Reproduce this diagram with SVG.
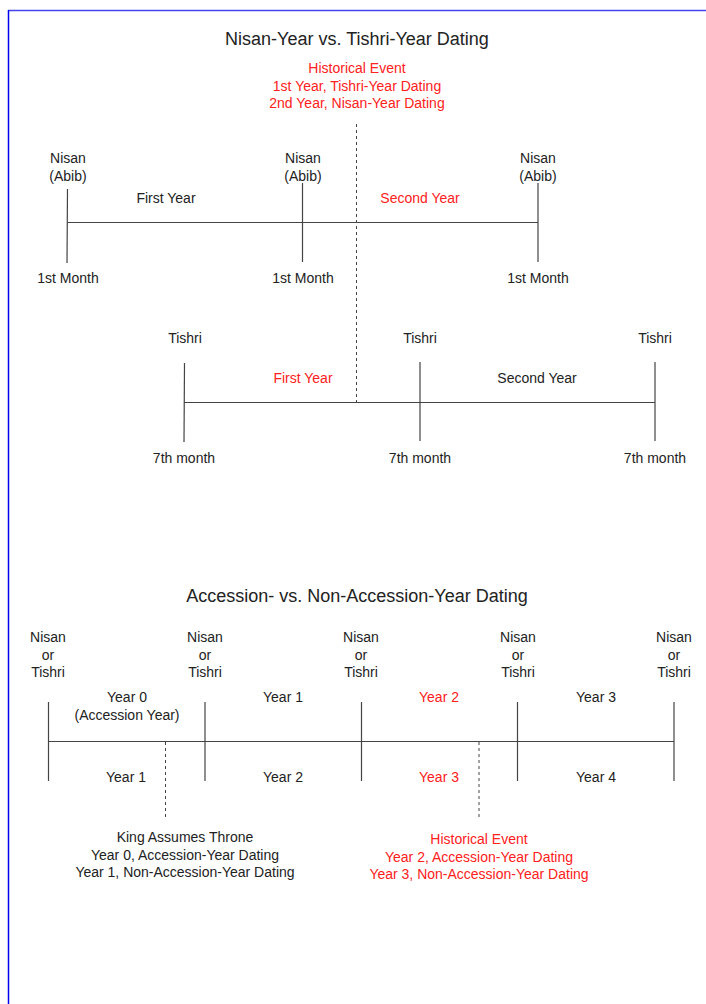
<svg xmlns="http://www.w3.org/2000/svg" width="706" height="1004" viewBox="0 0 706 1004">
<style>
text{font-family:"Liberation Sans",Arial,sans-serif;font-size:14px;fill:#222;text-anchor:middle}
.t{font-size:18px}
.r{fill:#ff2020}
.ln{stroke:#444;stroke-width:1.2;fill:none}
.d{stroke:#444;stroke-width:1;stroke-dasharray:3,3;fill:none}
</style>
<rect width="706" height="1004" fill="#fff"/>
<line x1="8" y1="10.5" x2="706" y2="10.5" stroke="#4444ee" stroke-width="1.5"/>
<line x1="8.5" y1="10" x2="8.5" y2="1004" stroke="#0000ee" stroke-width="1.5"/>

<g id="title1"><text class="t" x="357" y="45">Nisan-Year vs. Tishri-Year Dating</text></g>
<g id="event1">
<text class="r" x="357" y="73">Historical Event</text>
<text class="r" x="357" y="91">1st Year, Tishri-Year Dating</text>
<text class="r" x="357" y="108">2nd Year, Nisan-Year Dating</text>
</g>

<g id="connectors">
<line class="d" x1="356.5" y1="124" x2="356.5" y2="402"/>
<line class="ln" x1="67" y1="222.5" x2="538" y2="222.5"/>
<line class="ln" x1="67.5" y1="189" x2="67" y2="263"/>
<line class="ln" x1="302.5" y1="183" x2="302.5" y2="262"/>
<line class="ln" x1="538" y1="183" x2="538" y2="262"/>
<line class="ln" x1="184" y1="402.5" x2="655" y2="402.5"/>
<line class="ln" x1="184.5" y1="363" x2="184" y2="442"/>
<line class="ln" x1="420" y1="362" x2="420" y2="441"/>
<line class="ln" x1="655" y1="362" x2="655" y2="441"/>
<line class="ln" x1="48" y1="741.5" x2="674" y2="741.5"/>
<line class="ln" x1="48.5" y1="702" x2="48.5" y2="781"/>
<line class="ln" x1="205" y1="702" x2="205" y2="781"/>
<line class="ln" x1="361.5" y1="702" x2="361.5" y2="781"/>
<line class="ln" x1="517.5" y1="702" x2="517.5" y2="781"/>
<line class="ln" x1="674" y1="702" x2="674" y2="781"/>
<line class="d" x1="165.5" y1="742" x2="165.5" y2="818"/>
<line class="d" x1="479" y1="742" x2="479" y2="820"/>
</g>

<g id="nisan1"><text x="68" y="163">Nisan</text><text x="68" y="181">(Abib)</text><text x="68" y="283">1st Month</text></g>
<g id="nisan2"><text x="303" y="163">Nisan</text><text x="303" y="181">(Abib)</text><text x="303" y="283">1st Month</text></g>
<g id="nisan3"><text x="538" y="163">Nisan</text><text x="538" y="181">(Abib)</text><text x="538" y="283">1st Month</text></g>
<g id="nisanYears"><text x="166" y="203">First Year</text><text class="r" x="420" y="203">Second Year</text></g>

<g id="tishri1"><text x="185" y="343">Tishri</text><text x="184" y="463">7th month</text></g>
<g id="tishri2"><text x="420" y="343">Tishri</text><text x="420" y="463">7th month</text></g>
<g id="tishri3"><text x="655" y="343">Tishri</text><text x="655" y="463">7th month</text></g>
<g id="tishriYears"><text class="r" x="303" y="383">First Year</text><text x="537" y="383">Second Year</text></g>

<g id="title2"><text class="t" x="357" y="602">Accession- vs. Non-Accession-Year Dating</text></g>

<g id="m1"><text x="48" y="642">Nisan</text><text x="48" y="660">or</text><text x="48" y="677">Tishri</text></g>
<g id="m2"><text x="205" y="642">Nisan</text><text x="205" y="660">or</text><text x="205" y="677">Tishri</text></g>
<g id="m3"><text x="361" y="642">Nisan</text><text x="361" y="660">or</text><text x="361" y="677">Tishri</text></g>
<g id="m4"><text x="518" y="642">Nisan</text><text x="518" y="660">or</text><text x="518" y="677">Tishri</text></g>
<g id="m5"><text x="674" y="642">Nisan</text><text x="674" y="660">or</text><text x="674" y="677">Tishri</text></g>

<g id="years">
<text x="127" y="702">Year 0</text><text x="127" y="720">(Accession Year)</text>
<text x="283" y="702">Year 1</text>
<text class="r" x="439" y="702">Year 2</text>
<text x="596" y="702">Year 3</text>
<text x="126" y="782">Year 1</text>
<text x="283" y="782">Year 2</text>
<text class="r" x="439" y="782">Year 3</text>
<text x="596" y="782">Year 4</text>
</g>

<g id="king">
<text x="185" y="842">King Assumes Throne</text>
<text x="185" y="860">Year 0, Accession-Year Dating</text>
<text x="185" y="877">Year 1, Non-Accession-Year Dating</text>
</g>
<g id="event2">
<text class="r" x="479" y="844">Historical Event</text>
<text class="r" x="479" y="862">Year 2, Accession-Year Dating</text>
<text class="r" x="479" y="879">Year 3, Non-Accession-Year Dating</text>
</g>
</svg>
